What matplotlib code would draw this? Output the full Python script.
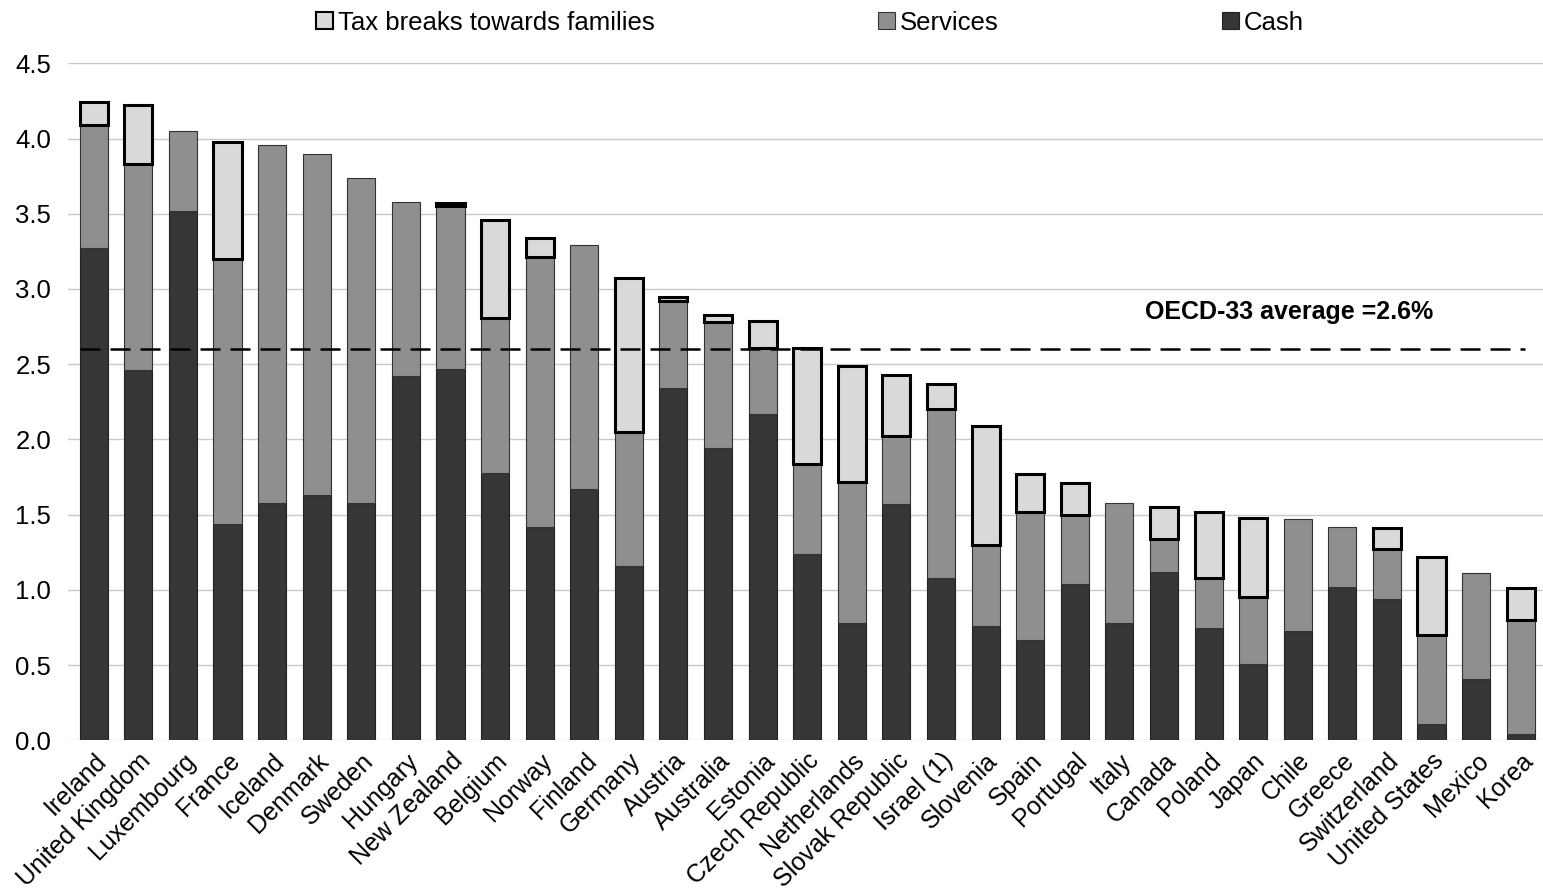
import numpy as np
import matplotlib
matplotlib.use("Agg")
import matplotlib.pyplot as plt
from matplotlib.patches import Patch

plt.rcParams['font.family'] = ['Liberation Sans', 'DejaVu Sans']

countries = [
    "Ireland", "United Kingdom", "Luxembourg", "France", "Iceland", "Denmark",
    "Sweden", "Hungary", "New Zealand", "Belgium", "Norway", "Finland",
    "Germany", "Austria", "Australia", "Estonia", "Czech Republic", "Netherlands",
    "Slovak Republic", "Israel (1)", "Slovenia", "Spain", "Portugal", "Italy",
    "Canada", "Poland", "Japan", "Chile", "Greece", "Switzerland",
    "United States", "Mexico", "Korea",
]

# % of GDP
cash = [3.27, 2.46, 3.52, 1.44, 1.58, 1.63, 1.58, 2.42, 2.47, 1.78, 1.42, 1.67,
        1.16, 2.34, 1.94, 2.17, 1.24, 0.78, 1.57, 1.08, 0.76, 0.67, 1.04, 0.78,
        1.12, 0.75, 0.51, 0.73, 1.02, 0.94, 0.11, 0.41, 0.04]
services = [0.82, 1.37, 0.53, 1.76, 2.38, 2.27, 2.16, 1.16, 1.08, 1.03, 1.79, 1.62,
            0.89, 0.58, 0.84, 0.44, 0.60, 0.94, 0.45, 1.12, 0.54, 0.85, 0.46, 0.80,
            0.22, 0.33, 0.44, 0.74, 0.40, 0.33, 0.59, 0.70, 0.76]
tax_breaks = [0.15, 0.39, 0.0, 0.78, 0.0, 0.0, 0.0, 0.0, 0.02, 0.65, 0.13, 0.0,
              1.02, 0.03, 0.05, 0.18, 0.77, 0.77, 0.41, 0.17, 0.79, 0.25, 0.21, 0.0,
              0.21, 0.44, 0.53, 0.0, 0.0, 0.14, 0.52, 0.0, 0.21]
oecd_avg = 2.6

cash = np.array(cash)
services = np.array(services)
tax_breaks = np.array(tax_breaks)
x = np.arange(len(countries))

c_cash = "#363636"
c_serv = "#8f8f8f"
c_tax = "#d9d9d9"

fig = plt.figure(figsize=(15.43, 8.91), dpi=100)
ax = fig.add_axes([0.044, 0.169, 0.956, 0.76])

w = 0.63
ax.bar(x, cash, w, color=c_cash, edgecolor="#222222", linewidth=0.8, zorder=3)
ax.bar(x, services, w, bottom=cash, color=c_serv, edgecolor="#333333", linewidth=0.8, zorder=3)
has_tax = tax_breaks > 0
ax.bar(x[has_tax], tax_breaks[has_tax], w, bottom=(cash + services)[has_tax],
       color=c_tax, edgecolor="black", linewidth=2.2, zorder=4)

ax.plot([-0.3, 32.1], [oecd_avg, oecd_avg], color="black", lw=1.8,
        dashes=(8, 4), zorder=5)
ax.text(26.8, 2.85, "OECD-33 average =2.6%", ha="center", va="center",
        fontsize=18, fontweight="bold")

ax.set_xlim(-0.58, 32.5)
ax.set_ylim(0, 4.5)
ax.set_yticks(np.arange(0, 4.51, 0.5))
ax.set_yticklabels([f"{v:.1f}" for v in np.arange(0, 4.51, 0.5)], fontsize=18.5)
ax.yaxis.grid(True, color="#c8c8c8", lw=1)
ax.set_axisbelow(True)
ax.tick_params(axis="both", length=0)
ax.tick_params(axis="y", pad=12)
for s in ax.spines.values():
    s.set_visible(False)

ax.set_xticks(x)
ax.set_xticklabels(countries, rotation=45, ha="right", rotation_mode="anchor",
                   fontsize=18)
ax.tick_params(axis="x", pad=6)

handles = [
    Patch(facecolor=c_tax, edgecolor="black", linewidth=1.5, label="Tax breaks towards families"),
    Patch(facecolor=c_serv, edgecolor="#333333", linewidth=0.8, label="Services"),
    Patch(facecolor=c_cash, edgecolor="#222222", linewidth=0.8, label="Cash"),
]
fig.legend(handles=handles, loc="upper center", bbox_to_anchor=(0.525, 1.014), ncol=3,
           frameon=False, fontsize=18.5, handlelength=0.65, handleheight=0.65,
           handletextpad=0.2, columnspacing=8.7)

fig.savefig("out.png", dpi=100)
